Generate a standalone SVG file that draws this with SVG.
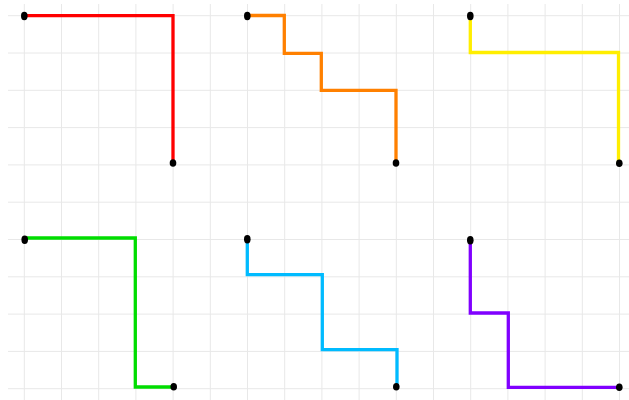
<svg xmlns="http://www.w3.org/2000/svg" width="629" height="400" viewBox="0 0 629 400">
<style>
.grid line{stroke:#e8e8e8;stroke-width:1}
.p{fill:none;stroke-width:3.3;stroke-linejoin:miter;stroke-linecap:butt}
.dot{fill:#000}
</style>
<rect width="629" height="400" fill="#fff"/>
<g class="grid" id="grid">
<line x1="24.3" y1="4" x2="24.3" y2="400"/>
<line x1="61.5" y1="4" x2="61.5" y2="400"/>
<line x1="98.7" y1="4" x2="98.7" y2="400"/>
<line x1="135.9" y1="4" x2="135.9" y2="400"/>
<line x1="173.1" y1="4" x2="173.1" y2="400"/>
<line x1="210.3" y1="4" x2="210.3" y2="400"/>
<line x1="247.5" y1="4" x2="247.5" y2="400"/>
<line x1="284.7" y1="4" x2="284.7" y2="400"/>
<line x1="321.9" y1="4" x2="321.9" y2="400"/>
<line x1="359.1" y1="4" x2="359.1" y2="400"/>
<line x1="396.3" y1="4" x2="396.3" y2="400"/>
<line x1="433.5" y1="4" x2="433.5" y2="400"/>
<line x1="470.7" y1="4" x2="470.7" y2="400"/>
<line x1="507.9" y1="4" x2="507.9" y2="400"/>
<line x1="545.1" y1="4" x2="545.1" y2="400"/>
<line x1="582.3" y1="4" x2="582.3" y2="400"/>
<line x1="619.5" y1="4" x2="619.5" y2="400"/>
<line x1="8" y1="15.7" x2="629" y2="15.7"/>
<line x1="8" y1="53" x2="629" y2="53"/>
<line x1="8" y1="90.3" x2="629" y2="90.3"/>
<line x1="8" y1="127.6" x2="629" y2="127.6"/>
<line x1="8" y1="164.9" x2="629" y2="164.9"/>
<line x1="8" y1="202.2" x2="629" y2="202.2"/>
<line x1="8" y1="239.5" x2="629" y2="239.5"/>
<line x1="8" y1="276.8" x2="629" y2="276.8"/>
<line x1="8" y1="314.1" x2="629" y2="314.1"/>
<line x1="8" y1="351.4" x2="629" y2="351.4"/>
<line x1="8" y1="388.7" x2="629" y2="388.7"/>
</g>
<g id="connectors">
<path class="p" stroke="#ff0000" d="M24.3 15.7 H173 V163"/>
<path class="p" stroke="#ff8000" d="M247.3 15.5 H284.3 V53.3 H321.3 V90.3 H396 V163"/>
<path class="p" stroke="#ffee00" d="M470.3 15.7 V52.5 H618.5 V163"/>
<path class="p" stroke="#00dd00" d="M24.7 238 H135.3 V387 H173.7"/>
<path class="p" stroke="#00bbff" d="M247.3 239.3 V274.7 H322.3 V349.7 H397 V386.7"/>
<path class="p" stroke="#8000ff" d="M470.3 240.3 V313 H508.3 V387.3 H619.3"/>
</g>
<g id="n-red-start"><ellipse class="dot" cx="24.3" cy="16" rx="3.3" ry="4.2"/></g>
<g id="n-red-end"><ellipse class="dot" cx="173" cy="163" rx="3.3" ry="3.8"/></g>
<g id="n-orange-start"><ellipse class="dot" cx="247.3" cy="16" rx="3.3" ry="4.2"/></g>
<g id="n-orange-end"><ellipse class="dot" cx="396" cy="163" rx="3.3" ry="3.8"/></g>
<g id="n-yellow-start"><ellipse class="dot" cx="470.3" cy="16" rx="3.3" ry="4.2"/></g>
<g id="n-yellow-end"><ellipse class="dot" cx="619.3" cy="163.3" rx="3.3" ry="3.8"/></g>
<g id="n-green-start"><ellipse class="dot" cx="24.7" cy="239.7" rx="3.3" ry="4.2"/></g>
<g id="n-green-end"><ellipse class="dot" cx="173.7" cy="386.7" rx="3.3" ry="3.8"/></g>
<g id="n-cyan-start"><ellipse class="dot" cx="247.3" cy="239.3" rx="3.3" ry="4.2"/></g>
<g id="n-cyan-end"><ellipse class="dot" cx="396.3" cy="386.7" rx="3.3" ry="3.8"/></g>
<g id="n-purple-start"><ellipse class="dot" cx="470.3" cy="240.3" rx="3.3" ry="4.2"/></g>
<g id="n-purple-end"><ellipse class="dot" cx="619.3" cy="387.3" rx="3.3" ry="3.8"/></g>
</svg>
